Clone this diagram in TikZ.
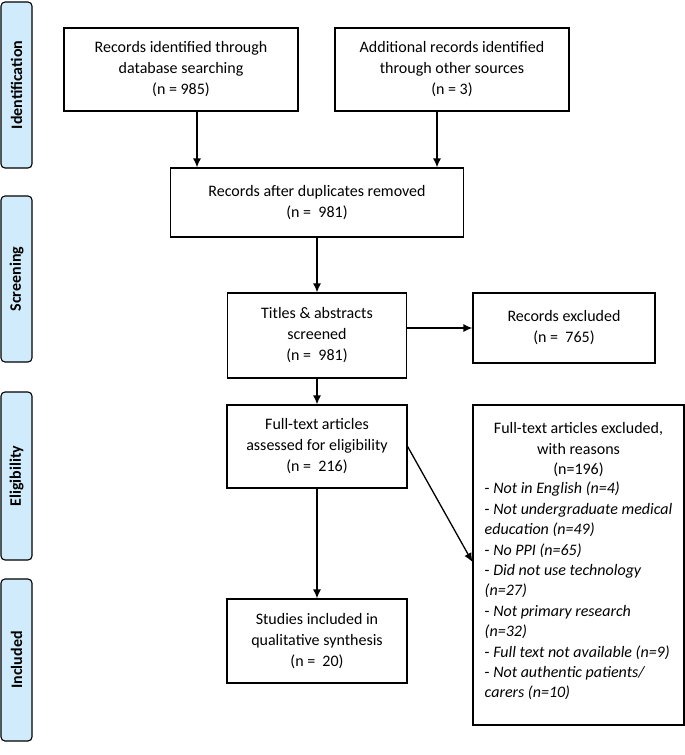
\documentclass[tikz,border=0pt]{standalone}
\usepackage{fontspec}
\setmainfont{Carlito}
\usepackage{tikz}
\usetikzlibrary{arrows.meta}
\definecolor{stageblue}{RGB}{208,236,252}
\newlength\reasonwd

\begin{document}
\settowidth\reasonwd{\fontsize{16}{20.4}\selectfont - \textit{Not undergraduate medical}}
\begin{tikzpicture}[x=1pt,y=-1pt,
		box/.style={draw, line width=1.2pt, align=center, font=\fontsize{16}{21}\selectfont},
		stage/.style={fill=stageblue, draw, line width=1.1pt, rounded corners=4pt, rotate=90, minimum height=31pt, font=\fontsize{16}{18}\selectfont\bfseries},
		arr/.style={-{Latex[length=9pt,width=8pt]}, line width=1.3pt}]

		\useasboundingbox (0,0) rectangle (685,755);

		% phases on the left
		\node[stage, minimum width=166pt] (sid) at (16.5,85) {Identification};
		\node[stage, minimum width=166pt] (sscr) at (16.5,279) {Screening};
		\node[stage, minimum width=168pt] (selig) at (16.5,476) {Eligibility};
		\node[stage, minimum width=162pt] (sinc) at (16.5,660) {Included};

		% flow boxes
		\node[box, minimum width=234pt, minimum height=83pt] (id1) at (181,69.5) {Records identified through\\database searching\\(n = 985)};
		\node[box, minimum width=234pt, minimum height=83pt] (id2) at (452,69.5) {Additional records identified\\through other sources\\(n = 3)};
		\node[box, minimum width=293pt, minimum height=69pt] (dup) at (317,202.5) {Records after duplicates removed\\(n =~~981)};
		\node[box, minimum width=179pt, minimum height=85pt] (scr) at (317,335.5) {Titles \& abstracts\\screened\\(n =~~981)};
		\node[box, minimum width=182pt, minimum height=70pt] (exc) at (564,328) {Records excluded\\(n =~~765)};
		\node[box, minimum width=180pt, minimum height=83pt] (ft) at (317,446.5) {Full-text articles\\assessed for eligibility\\(n =~~216)};
		\node[box, minimum width=211pt, minimum height=320pt, align=left,
			font=\fontsize{16}{20.4}\selectfont] (ftx) at (578.5,565) {%
			\makebox[\reasonwd][c]{Full-text articles excluded,}\\
			\makebox[\reasonwd][c]{with reasons}\\
			\makebox[\reasonwd][c]{(n=196)}\\[-1pt]
			- \textit{Not in English (n=4)}\\
			- \textit{Not undergraduate medical}\\
			\textit{education (n=49)}\\
			- \textit{No PPI (n=65)}\\
			- \textit{Did not use technology}\\
			\textit{(n=27)}\\
			- \textit{Not primary research}\\
			\textit{(n=32)}\\
			- \textit{Full text not available (n=9)}\\
			- \textit{Not authentic patients/}\\
			\textit{carers (n=10)}\\[-11pt]};
		\node[box, minimum width=180pt, minimum height=84pt] (inc) at (317,641) {Studies included in\\qualitative synthesis\\(n =~~20)};

		% arrows
		\draw[arr] ([xshift=16pt]id1.south) -- ([xshift=16pt]id1.south |- dup.north);
		\draw[arr] ([xshift=-15pt]id2.south) -- ([xshift=-15pt]id2.south |- dup.north);
		\draw[arr] (dup.south) -- (scr.north);
		\draw[arr] (scr.east |- exc.west) -- (exc.west);
		\draw[arr] (scr.south) -- (ft.north);
		\draw[arr] (ft.east) -- ([yshift=3pt]ftx.west);
		\draw[arr] (ft.south) -- (inc.north);
	\end{tikzpicture}
\end{document}
